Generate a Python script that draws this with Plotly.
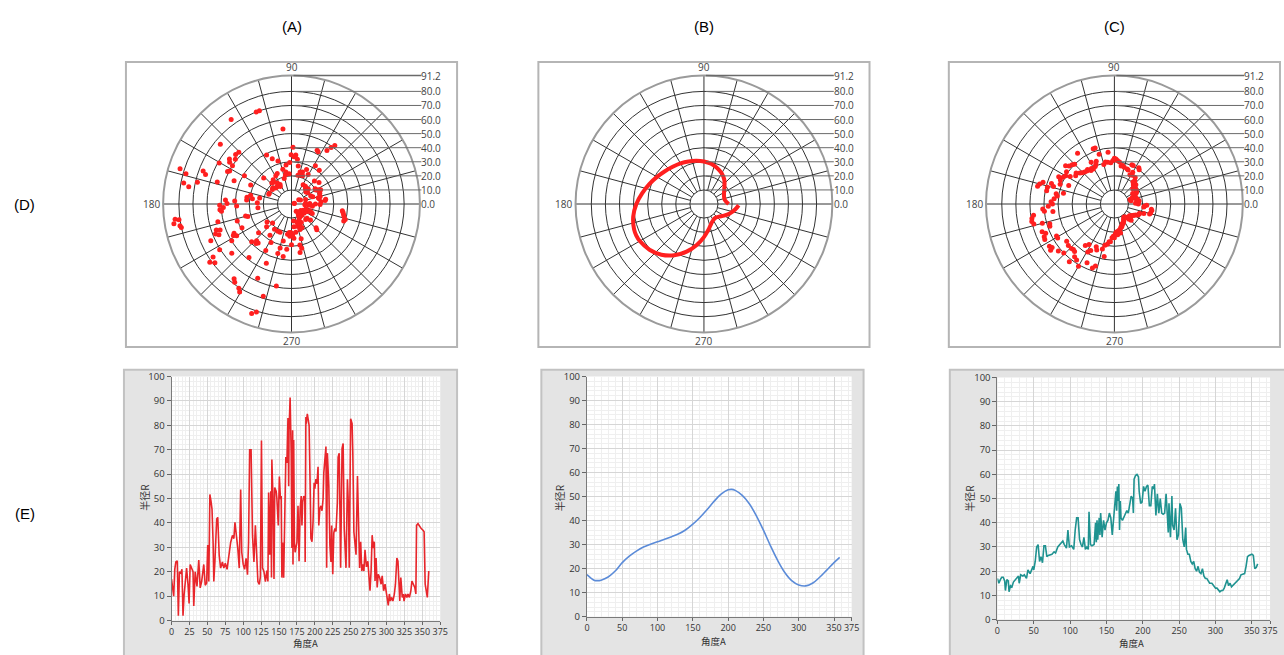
import plotly.graph_objects as go

# ---------------- data (angle in degrees, radius R) ----------------
ANG_A = [0, 1.5, 3, 4.5, 6, 8, 9.5, 11, 13, 14.5, 16, 17.5, 19, 21, 23, 24.5, 26, 28, 30, 31,
         33, 35.5, 38, 40, 42, 45, 47, 49, 50.5, 52, 53.5, 55, 56.5, 58, 59, 60.5, 63, 64.5, 66.5, 68.5,
         71, 73, 75, 77.5, 80, 82.5, 85, 87, 88.5, 90.5, 92.5, 94.5, 96.5, 98, 100, 102, 104, 106, 107.5, 109,
         111, 113, 115, 117, 119, 120.5, 122.5, 124, 125.5, 127, 129, 131, 133, 134.5, 135.5, 137, 138.5, 139.5, 140, 141.5,
         143, 144, 146, 147, 149, 150.5, 152, 153, 154, 155, 156.5, 158, 159.5, 161, 162.5, 163.5, 164, 165.5,
         167, 168, 169, 169.5, 170.5, 171.5, 172.5, 175, 176.5, 177, 178, 179.5, 181, 182, 183, 184.5,
         186, 186.5, 187.5, 188, 189.5, 191, 192, 193.5, 194.5, 196, 197.5, 199, 200, 201.5, 203, 204.5,
         205.5, 207, 208.5, 210, 211.5, 212.5, 214, 215.5, 216.5, 217.5, 219.5, 221, 222.5, 223.5, 225, 226.5,
         228, 229.5, 231.5, 232.5, 234, 235.5, 236, 238, 239.5, 241, 242, 243.5, 245.5, 247, 248, 250,
         252, 253, 254.5, 255.5, 257.5, 259.5, 261, 262.5, 264, 265.5, 267, 268.5, 270, 272, 274, 276,
         277, 278.5, 280, 281.5, 283, 284, 285.5, 287, 288.5, 290.5, 292.5, 294, 296, 298, 300, 301.5,
         302.5, 304, 305.5, 307, 309, 311, 312.5, 314.5, 316, 317.5, 318.5, 320, 322, 323.5, 324.5, 326.5,
         328.5, 330, 332, 334, 335.5, 337.5, 339.5, 341, 342, 344, 346.5, 348.5, 351, 352.5, 354, 355.5,
         357, 359]
R_A = [17, 13, 10, 21, 24, 24.5, 2, 20, 19.5, 21, 2, 10.5, 16, 21.5, 14.8, 7, 23, 21.5, 20, 6,
       20, 14, 24.8, 13.4, 16, 23, 14.5, 15.4, 31, 16, 51.7, 49, 45.6, 32, 16, 24, 41.6, 42.3, 26.8, 21.5,
       24, 21.5, 23.5, 21, 27.5, 32, 34.9, 33.6, 40.3, 35, 29.5, 21.5, 53.7, 28, 23, 21, 25.5, 18.8, 32, 70,
       70, 35, 24, 39, 23, 16, 14.8, 18, 73.8, 21.6, 20, 16, 20.5, 16, 52.5, 27, 53, 17.6, 66, 51,
       17, 54.5, 53, 50, 39, 59, 49.8, 51, 17.6, 32, 17.6, 44, 67, 64.6, 83, 55, 78, 91.4,
       68.6, 29.7, 78, 23, 74, 32, 28, 32, 47, 40.4, 24.3, 45.8, 51, 39, 48.5, 51,
       50, 24, 83.4, 80.7, 84.7, 80.7, 80, 53.8, 33.7, 32.3, 40.4, 56.5, 54, 58, 56, 63,
       39, 45.8, 47, 45, 49.8, 60.5, 67.2, 71.3, 21.6, 68.6, 55, 31, 24, 39, 19, 36,
       37.7, 36.5, 48.5, 67, 68.6, 27, 21.6, 70.6, 72.6, 37.7, 31, 21.6, 57.9, 45.8, 21.6, 82.7,
       80.7, 68.6, 36.4, 32.3, 27, 59.2, 37.7, 21.6, 32.3, 20.3, 23, 20.3, 29, 22, 24.3, 16.2,
       12.2, 20.3, 35, 29.7, 32.3, 16.2, 25.6, 13.6, 19, 17.6, 14.9, 18.3, 12.2, 14.9, 10.9, 9.5,
       6.2, 10.9, 8, 9.5, 8, 10.9, 14.9, 25.6, 24.3, 14.9, 8, 17.6, 9.5, 10.9, 8, 10.9,
       9.5, 10.9, 9.5, 12.2, 16.2, 14.9, 13.6, 10.9, 39, 39.7, 38.4, 37.7, 37, 36.4, 14.9, 12.2,
       9.5, 20.3]

ANG_B = [0, 10, 15, 20, 30, 40, 50, 60, 70, 80, 90, 100, 110, 120, 130, 140, 150, 160, 170, 180,
         190, 200, 205, 210, 220, 230, 240, 250, 260, 270, 280, 290, 300, 310, 320, 330, 340, 350, 358]
R_B = [17.5, 15.2, 15, 15.2, 16.5, 19, 22.5, 25.2, 27.3, 29, 30.2, 31.2, 32.2, 33.3, 34.5, 36.2, 38.5, 41.3, 44.5, 48,
       51, 52.8, 53, 52.6, 50.5, 47, 42, 36, 29.5, 23.5, 18.5, 15, 13.2, 12.8, 14, 16.5, 19.5, 22.5, 24.7]

ANG_C = [0, 2, 4, 6, 8, 10, 11, 13, 15, 16, 18, 20, 22, 25, 27, 29, 30, 32, 35, 37,
         40, 42, 45, 47, 49, 50, 52, 54, 56, 58, 60, 62, 64, 66, 68, 70, 75, 78, 80, 83,
         86, 88, 90, 92, 95, 97, 99, 102, 105, 107, 109, 111, 113, 115, 117, 119, 121, 123, 125, 126,
         128, 130, 133, 135, 136, 137, 138, 140, 141, 142, 144, 146, 148, 150, 152, 154, 156, 158, 160, 162,
         163, 164, 165, 166, 167, 168, 169, 170, 172, 175, 178, 180, 182, 184, 186, 187, 188, 190, 192, 194,
         195, 197, 199, 201, 203, 205, 207, 209, 211, 213, 215, 216, 218, 220, 222, 224, 226, 228, 230, 232,
         233, 235, 236, 238, 240, 241, 243, 245, 247, 249, 251, 253, 255, 257, 259, 260, 262, 264, 266, 268,
         270, 272, 274, 276, 278, 280, 282, 284, 286, 288, 290, 292, 295, 298, 300, 302, 304, 306, 308, 310,
         312, 314, 316, 318, 320, 322, 325, 328, 330, 333, 335, 338, 340, 342, 344, 346, 350, 352, 354, 356, 358]
R_C = [17, 15, 16.5, 17.5, 17.5, 16, 12, 16.5, 16, 11.5, 14, 13.5, 15.5, 16.5, 17.5, 18, 15, 18.5, 18, 18.5,
       17, 20.5, 19, 21, 22, 20.5, 24, 30, 31, 24, 26, 23.5, 30.5, 30.5, 26, 26.5, 27, 28, 27.5, 30,
       31, 32, 32.5, 31, 29.5, 37, 30, 30.5, 29, 37, 42, 42, 33, 31, 30, 34, 29, 30, 29, 44.5,
       31, 30.5, 31, 40, 32, 41, 33, 42, 35, 44, 34, 41, 37, 40, 41, 44, 42, 35, 41, 47,
       53, 45, 55, 49, 56, 37, 49, 42, 41, 43, 45, 44, 47, 51, 50, 44, 58, 59.5, 60, 59,
       53, 48, 48.5, 55, 53, 55, 55.5, 47, 47, 55, 54, 56, 43, 52, 44, 50, 44, 43.5, 44, 52,
       47, 36, 48, 34, 51, 39, 37, 46, 33, 35, 48, 46, 33, 30, 38, 29, 27, 27, 24, 23,
       24, 21, 20, 22, 19.5, 19, 21, 18, 17, 17, 16, 15, 15, 14, 13, 13, 12, 11.5, 12, 12,
       13, 15, 16.5, 14, 15, 13.5, 14.5, 15.5, 16, 17, 18.5, 19, 19, 22, 26, 26.5, 27, 26.5, 21, 21.5, 23]

RINGS = [10, 20, 30, 40, 50, 60, 70, 80]
RAD_LABELS = [0, 10, 20, 30, 40, 50, 60, 70, 80, 91.2]
RMAX = 91.2
SPOKES = list(range(0, 360, 15))
X_TICKS_A = list(range(0, 376, 25))
X_TICKS_BC = [0, 50, 100, 150, 200, 250, 300, 350, 375]
COL_TITLES = ["(A)", "(B)", "(C)"]
ROW_TITLES = ["(D)", "(E)"]
X_TITLE = "角度A"
Y_TITLE = "半径R"

# ---------------- geometry (page pixels) ----------------
W, H = 1284, 655
def px(x): return min(1.0, max(0.0, x / W))
def py(y): return min(1.0, max(0.0, 1 - y / H))
def pxu(x): return x / W
def pyu(y): return 1 - y / H

POL_CX = [291, 707, 1121]
POL_CY = 201
POL_R = 131
LINE_BOX = [(170, 441, 377, 626), (589, 856, 377, 622), (1003, 1278, 378, 625)]
PANEL = [(122, 458, 370, 665), (543, 868, 370, 665), (955, 1295, 370, 665)]
X_TITLE_POS = [(305, 649), (717, 646.5), (1138, 649)]
Y_TITLE_POS = [(142, 500), (561, 501), (974, 501)]

RED = "#ff1f1f"
FONT = "Open Sans, Noto Sans, sans-serif"
CJK = "Noto Sans CJK SC"

fig = go.Figure()
shapes = []
annotations = []

def spoke_trace(sub):
    r, t = [], []
    for a in SPOKES:
        r0 = 0 if a % 90 == 0 else RINGS[0]
        r += [r0, RMAX, None]
        t += [a, a, None]
    return go.Scatterpolar(r=r, theta=t, mode="lines", line=dict(color="#333333", width=1),
                           subplot=sub, hoverinfo="skip", showlegend=False)

subs = ["polar", "polar2", "polar3"]
for s in subs:
    fig.add_trace(spoke_trace(s))

fig.add_trace(go.Scatterpolar(r=R_A, theta=ANG_A, mode="markers", marker=dict(color=RED, size=5),
                              subplot="polar", showlegend=False))
fig.add_trace(go.Scatterpolar(r=R_B, theta=ANG_B, mode="lines", line=dict(color=RED, width=4, shape="spline"),
                              subplot="polar2", showlegend=False))
fig.add_trace(go.Scatterpolar(r=R_C, theta=ANG_C, mode="markers", marker=dict(color=RED, size=5),
                              subplot="polar3", showlegend=False))

def ann(x, y, text, xa="center", ya="middle", size=10, color="#444", family=FONT, angle=0):
    annotations.append(dict(x=pxu(x), y=pyu(y), xref="paper", yref="paper", text=text, showarrow=False,
                            xanchor=xa, yanchor=ya, textangle=angle, borderpad=0,
                            font=dict(family=family, size=size, color=color)))

polar_layout = {}
for i, s in enumerate(subs):
    cx = POL_CX[i]
    polar_layout[s] = dict(
        domain=dict(x=[px(cx - POL_R), px(cx + POL_R)], y=[py(POL_CY + POL_R), py(POL_CY - POL_R)]),
        bgcolor="white",
        angularaxis=dict(rotation=0, direction="counterclockwise", showgrid=False, showticklabels=False,
                         ticks="", showline=True, linecolor="#9a9a9a", linewidth=2),
        radialaxis=dict(range=[0, RMAX], tickvals=RINGS, showgrid=True, gridcolor="#333333", gridwidth=1,
                        showticklabels=False, ticks="", showline=False),
    )
    shapes.append(dict(type="rect", xref="paper", yref="paper", x0=pxu(cx - 167), x1=pxu(cx + 167),
                       y0=pyu(POL_CY + 146), y1=pyu(POL_CY - 145), line=dict(color="#b5b5b5", width=2),
                       fillcolor="rgba(0,0,0,0)", layer="below"))
    for v in RAD_LABELS:
        yy = POL_CY - v * POL_R / RMAX
        if v > 0:
            shapes.append(dict(type="line", xref="paper", yref="paper", x0=pxu(cx + 2), x1=pxu(cx + POL_R),
                               y0=pyu(yy), y1=pyu(yy),
                               line=dict(color="#6a6a6a", width=1.5 if v == RMAX else 1)))
        ann(cx + POL_R - 1, yy, f"{v:.1f}", xa="left")
    ann(cx, POL_CY - POL_R - 1, "90", ya="bottom")
    ann(cx, POL_CY + POL_R + 1, "270", ya="top")
    ann(cx - POL_R - 1, POL_CY, "180", xa="right")
    ann(cx, 20, COL_TITLES[i], size=15, color="#000", family="Liberation Sans, Arial")

for j, yy in enumerate([201, 517]):
    ann(22, yy, ROW_TITLES[j], size=15, color="#000", family="Liberation Sans, Arial")

# ---------------- line charts ----------------
line_data = [(ANG_A, R_A, "#e8262b", X_TICKS_A, 5), (ANG_B, R_B, "#5b8bd8", X_TICKS_BC, 10),
             (ANG_C, R_C, "#1f9290", X_TICKS_BC, 10)]
axes = {}
for i, (xs, ys, col, xt, xminor) in enumerate(line_data):
    k = "" if i == 0 else str(i + 1)
    x0, x1, y0, y1 = LINE_BOX[i]
    pl = PANEL[i]
    shapes.append(dict(type="rect", xref="paper", yref="paper", x0=pxu(pl[0]), x1=pxu(pl[1]), y0=pyu(pl[3]), y1=pyu(pl[2]),
                       fillcolor="#e4e4e4", line=dict(color="#c2c2c2", width=2), layer="below"))
    shapes.append(dict(type="rect", xref=f"x{k} domain", yref=f"y{k} domain", x0=0, x1=1, y0=0, y1=1,
                       fillcolor="white", line=dict(width=0), layer="below"))
    fig.add_trace(go.Scatter(x=xs, y=ys, mode="lines",
                             line=dict(color=col, width=1.6, shape="spline" if i == 1 else "linear"),
                             xaxis=f"x{k}", yaxis=f"y{k}", showlegend=False))
    axes[f"xaxis{k}"] = dict(domain=[px(x0), px(x1)], range=[0, 375], tickmode="array", tickvals=xt,
                             anchor=f"y{k}", showgrid=True, gridcolor="#d6d6d6", gridwidth=1,
                             minor=dict(dtick=xminor, tick0=0, showgrid=True, gridcolor="#efefef", ticks=""),
                             showline=True, linecolor="#7a7a7a", linewidth=1, ticks="outside", ticklen=3,
                             tickcolor="#666", zeroline=False, tickangle=0,
                             tickfont=dict(family=FONT, size=9, color="#333"))
    axes[f"yaxis{k}"] = dict(domain=[py(y1), py(y0)], range=[0, 100], dtick=10, anchor=f"x{k}",
                             showgrid=True, gridcolor="#d6d6d6", gridwidth=1,
                             minor=dict(dtick=2, showgrid=True, gridcolor="#efefef", ticks=""),
                             showline=True, linecolor="#7a7a7a", linewidth=1, ticks="outside", ticklen=4,
                             tickcolor="#666", zeroline=False,
                             tickfont=dict(family=FONT, size=9.5, color="#333"))
    ann(X_TITLE_POS[i][0], X_TITLE_POS[i][1], X_TITLE, size=9.5, color="#333", family=CJK)
    ann(Y_TITLE_POS[i][0], Y_TITLE_POS[i][1], Y_TITLE, size=10, color="#333", family=CJK, angle=-90)

fig.update_layout(width=W, height=H, margin=dict(l=0, r=0, t=0, b=0), paper_bgcolor="white",
                  plot_bgcolor="rgba(0,0,0,0)", showlegend=False, shapes=shapes, annotations=annotations,
                  **polar_layout, **axes)

POST = ("document.documentElement.style.margin='0';document.body.style.margin='0';"
        "document.documentElement.style.overflow='hidden';document.body.style.overflow='hidden';"
        "var d=document.getElementById('{plot_id}');d.style.position='fixed';d.style.left='0px';d.style.top='0px';")
fig.write_html("out.html", config={"displayModeBar": False, "responsive": False}, post_script=POST)
